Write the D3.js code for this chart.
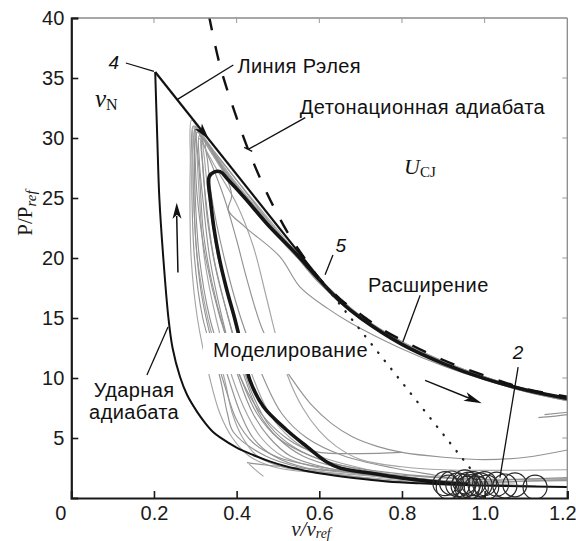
<!DOCTYPE html>
<html><head><meta charset="utf-8">
<script src="https://cdn.jsdelivr.net/npm/d3@7"></script>
<style>body{margin:0;background:#fff} svg{display:block}</style>
</head><body><svg id="c" width="576" height="541"></svg>
<script>
// ---------- data ----------
const xTickValues = [0, 0.2, 0.4, 0.6, 0.8, 1.0, 1.2];
const xTickLabels = ["0", "0.2", "0.4", "0.6", "0.8", "1.0", "1.2"];
const yTickValues = [5, 10, 15, 20, 25, 30, 35, 40];
const yTickLabels = ["5", "10", "15", "20", "25", "30", "35", "40"];

// shock adiabat (Ударная адиабата), starting at point 4
const shockV = [0.203,0.208,0.213,0.2226,0.235,0.245,0.263,0.28,0.304,0.325,0.343,0.36,0.40,0.44,0.48,0.521,0.56,0.60,0.683,0.763,0.843,0.95,1.05,1.2];
const shockP = [35.5,30,25,20,15,12.5,10.1,8.6,7.2,6.2,5.5,5.05,4.2,3.58,3.05,2.62,2.32,2.06,1.67,1.38,1.22,1.08,1.0,0.92];

// Rayleigh line: point 4 -> CJ point (solid), continuation (dotted)
const rayleighV = [0.203, 0.60];
const rayleighP = [35.5, 18.3];
const rayleighDotV = [0.60, 0.968];
const rayleighDotP = [18.3, 2.35];

// detonation adiabat (dashed)
const detonV = [0.333,0.36,0.39,0.425,0.46,0.495,0.53,0.565,0.60,0.65,0.70,0.75,0.80,0.90,1.00,1.10,1.20];
const detonP = [40.2,36.0,32.7,29.3,26.4,23.9,21.75,19.95,18.3,16.6,15.3,14.1,13.15,11.5,10.2,9.1,8.45];

// bold simulated cycle (Моделирование)
const boldV = [0.96,0.9,0.84,0.8,0.722,0.65,0.618,0.57,0.521,0.465,0.432,0.413,0.395,0.375,0.358,0.345,0.336,0.332,0.334,0.345,0.36,0.38,0.42,0.48,0.54,0.60,0.65,0.70,0.80,0.90,1.00,1.10,1.20];
const boldP = [1.15,1.27,1.5,1.67,2.08,2.5,3.0,4.28,5.67,7.6,9.83,12.5,15,17.5,20,22.5,25,26.3,26.8,27.15,27.2,26.5,25.0,22.6,20.5,18.2,16.4,15.0,12.8,11.2,9.95,9.0,8.3];

// gray simulated cycles, [v, P] pairs
const grayCycles = [
 [[1.2,1.55],[1.05,1.35],[0.905,1.25],[0.8,1.45],[0.7,1.75],[0.6,2.1],[0.5,2.5],[0.43,3.5],[0.39,5],[0.36,7],[0.335,10],[0.305,15],[0.29,20],[0.287,25],[0.288,28],[0.291,31.5],[0.31,30.6],[0.35,28.7],[0.4,26.5],[0.45,24.4],[0.5,22.3],[0.55,20.2],[0.6,18.0],[0.65,16.3],[0.7,15.0],[0.8,12.85],[0.9,11.2],[1.0,9.95],[1.1,8.9],[1.2,8.2]],
 [[0.92,1.1],[0.8,1.35],[0.7,1.7],[0.56,2.5],[0.47,3.5],[0.392,5.5],[0.378,7],[0.36,10],[0.318,15],[0.298,20],[0.292,25],[0.292,28],[0.295,31.0],[0.32,29.9],[0.36,28.0],[0.4,26.0],[0.45,23.9],[0.5,21.9],[0.55,19.9],[0.6,17.9],[0.7,14.9],[0.8,12.9],[0.9,11.3],[1.0,10.0],[1.1,9.0],[1.2,8.3]],
 [[1.2,1.7],[1.05,1.5],[0.948,1.3],[0.8,1.7],[0.68,2.1],[0.57,2.5],[0.49,3.5],[0.44,5],[0.41,7],[0.38,10],[0.335,15],[0.31,20],[0.30,25],[0.298,28],[0.30,30.7],[0.33,29.4],[0.37,27.4],[0.42,25.1],[0.47,23.0],[0.52,21.1],[0.57,19.2],[0.62,17.5],[0.7,15.1],[0.8,13.0],[0.9,11.35],[1.0,10.05],[1.1,9.0],[1.2,8.35]],
 [[0.961,1.2],[0.85,1.45],[0.72,1.9],[0.6,2.5],[0.51,3.5],[0.46,5],[0.425,7],[0.39,10],[0.35,15],[0.322,20],[0.31,25],[0.305,28],[0.305,30.5],[0.34,29.0],[0.38,27.0],[0.43,24.9],[0.48,22.9],[0.53,20.9],[0.58,19.0],[0.63,17.2],[0.7,15.2],[0.8,13.05],[0.9,11.4],[1.0,10.1],[1.1,9.05],[1.2,8.4]],
 [[0.973,1.0],[0.85,1.35],[0.75,1.75],[0.62,2.5],[0.53,3.5],[0.48,5],[0.44,7],[0.405,10],[0.365,15],[0.335,20],[0.318,25],[0.31,28],[0.31,30.2],[0.34,28.7],[0.39,26.2],[0.44,24.1],[0.49,22.2],[0.54,20.4],[0.59,18.6],[0.65,16.4],[0.75,13.9],[0.85,12.1],[0.95,10.7],[1.05,9.55],[1.2,8.25]],
 [[1.2,1.45],[1.08,1.4],[0.989,1.3],[0.88,1.5],[0.76,1.9],[0.65,2.5],[0.56,3.5],[0.5,5],[0.455,7],[0.42,10],[0.38,15],[0.345,20],[0.325,25],[0.317,28],[0.315,30.0],[0.35,28.3],[0.4,25.8],[0.45,23.8],[0.5,22.0],[0.55,20.1],[0.6,18.1],[0.7,15.0],[0.8,12.95],[0.9,11.3],[1.0,10.0],[1.1,8.95],[1.2,8.25]],
 [[1.005,1.2],[0.9,1.45],[0.8,1.8],[0.7,2.5],[0.6,3.5],[0.53,5],[0.48,7],[0.44,10],[0.395,15],[0.355,20],[0.333,25],[0.323,28],[0.32,29.8],[0.36,27.6],[0.41,25.4],[0.46,23.5],[0.51,21.6],[0.56,19.7],[0.61,17.8],[0.7,15.05],[0.8,12.9],[0.9,11.25],[1.0,9.95],[1.1,8.9],[1.2,8.15]],
 [[1.029,1.1],[0.9,1.4],[0.78,1.9],[0.68,2.5],[0.58,3.5],[0.5,5],[0.45,7],[0.41,10],[0.36,15],[0.325,20],[0.305,25],[0.30,28],[0.30,30.9],[0.33,29.5],[0.37,27.8],[0.42,25.6],[0.47,23.4],[0.52,21.3],[0.57,19.4],[0.62,17.6],[0.7,15.15],[0.8,13.0],[0.9,11.4],[1.0,10.1],[1.1,9.05],[1.2,8.35]],
 [[1.049,1.3],[0.95,1.5],[0.88,1.9],[0.78,2.5],[0.66,3.5],[0.57,5],[0.51,7],[0.465,10],[0.41,15],[0.37,20],[0.34,25],[0.33,28],[0.325,29.6],[0.37,27.2],[0.42,24.9],[0.47,22.9],[0.52,21.0],[0.57,19.2],[0.62,17.4],[0.7,15.0],[0.8,12.85],[0.9,11.2],[1.0,9.9],[1.1,8.85],[1.2,8.1]],
 [[1.073,1.25],[0.95,1.35],[0.85,1.5],[0.7,1.9],[0.6,2.2],[0.52,2.5],[0.45,3.5],[0.415,5],[0.39,7],[0.37,10],[0.33,15],[0.305,20],[0.296,25],[0.294,28],[0.297,31.0],[0.33,29.6],[0.38,27.1],[0.44,24.5],[0.5,22.1],[0.56,19.8],[0.62,17.6],[0.7,15.1],[0.8,13.0],[0.9,11.35],[1.0,10.05],[1.1,9.0],[1.2,8.3]],
 [[1.125,1.0],[1.0,1.2],[0.85,1.5],[0.72,2.0],[0.6,2.6],[0.5,3.4],[0.44,4.6],[0.4,6.5],[0.37,9.5],[0.34,13],[0.315,17],[0.3,22],[0.297,27],[0.305,30.5],[0.33,28.6],[0.37,25],[0.4,21.5],[0.425,18.2],[0.463,14],[0.5,11.7],[0.53,10.1],[0.58,7.8],[0.63,6.2],[0.68,5.1],[0.74,4.3],[0.8,3.8],[0.9,3.4],[1.0,3.2],[1.1,3.4],[1.2,4.0]],
 [[0.30,30.8],[0.31,27],[0.32,22],[0.34,18],[0.37,14],[0.41,10],[0.46,7],[0.52,5],[0.56,4.2],[0.6,3.8],[0.7,3.7],[0.8,3.8]],
 [[1.2,2.35],[1.0,2.3],[0.9,2.35],[0.8,2.6],[0.7,3.2],[0.642,4.28],[0.6,5.6],[0.56,7.5],[0.521,10.4],[0.495,13.5],[0.47,17],[0.44,21],[0.4,24.5],[0.35,27.5],[0.31,30]],
 [[1.03,1.5],[0.9,1.7],[0.75,2.2],[0.62,3.0],[0.54,4.2],[0.48,6],[0.44,8.5],[0.41,11.5],[0.38,15],[0.35,19],[0.33,23],[0.32,27],[0.318,29.9],[0.35,28.5],[0.388,25.25],[0.38,24.0],[0.42,22.6],[0.505,20.1],[0.553,17.6],[0.62,15.8],[0.675,14.6],[0.795,12.5],[0.9,11.0],[1.0,9.85],[1.1,8.85],[1.2,8.1]],
 [[0.425,2.95],[0.47,2.75],[0.55,2.5],[0.65,2.25],[0.8,1.9],[0.95,1.6],[1.2,1.6]],
 [[0.43,2.85],[0.447,2.3],[0.465,1.8]],
 [[1.13,6.7],[1.165,6.8],[1.2,6.95]],
 [[1.145,6.95],[1.2,7.15]]
];

// initial states (circles)
const circleV = [0.904,0.912,0.92,0.935,0.948,0.952,0.958,0.961,0.966,0.973,0.98,0.989,1.0,1.005,1.029,1.049,1.073,1.122];
const circleP = [1.2,0.9,1.25,1.1,1.0,1.35,0.8,1.15,0.95,1.2,0.85,1.1,1.2,0.9,1.15,1.0,1.1,0.9];

// ---------- drawing ----------
const svg = d3.select("#c");
const x = d3.scaleLinear().domain([0, 1.2]).range([71.3, 567.3]);
const y = d3.scaleLinear().domain([0, 40]).range([498, 18]);
const zip = (a, b) => a.map((v, i) => [v, b[i]]);
const line = d3.line().x(d => x(d[0])).y(d => y(d[1]));
const smooth = d3.line().x(d => x(d[0])).y(d => y(d[1])).curve(d3.curveCatmullRom.alpha(0.5));
const sans = "'Liberation Sans', Arial, Helvetica, sans-serif";
const serif = "'Liberation Serif', 'Times New Roman', serif";

svg.append("defs").append("clipPath").attr("id", "clip")
  .append("rect").attr("x", x(0)).attr("y", y(40)).attr("width", x(1.2) - x(0)).attr("height", y(0) - y(40));

const plot = svg.append("g").attr("clip-path", "url(#clip)");

// gray cycles
plot.append("g").selectAll("path").data(grayCycles).join("path")
  .attr("d", d => smooth(d)).attr("fill", "none")
  .attr("stroke", (d, i) => i % 3 === 0 ? "#a5a5a5" : "#939393").attr("stroke-width", 1.15);

// bold cycle
plot.append("path").attr("d", smooth(zip(boldV, boldP))).attr("fill", "none")
  .attr("stroke", "#151515").attr("stroke-width", 3.6).attr("stroke-linejoin", "round");

// label knockout for Моделирование
plot.append("rect").attr("x", 203).attr("y", 333).attr("width", 164).attr("height", 41).attr("fill", "#fff");

// shock adiabat
plot.append("path").attr("d", smooth(zip(shockV, shockP))).attr("fill", "none")
  .attr("stroke", "#111").attr("stroke-width", 2);

// detonation adiabat, dashed
plot.append("path").attr("d", smooth(zip(detonV, detonP))).attr("fill", "none")
  .attr("stroke", "#111").attr("stroke-width", 2.4).attr("stroke-dasharray", "15,16");

// Rayleigh line
plot.append("path").attr("d", line(zip(rayleighV, rayleighP))).attr("fill", "none")
  .attr("stroke", "#111").attr("stroke-width", 2.2);
plot.append("path").attr("d", line(zip(rayleighDotV, rayleighDotP))).attr("fill", "none")
  .attr("stroke", "#222").attr("stroke-width", 2.3).attr("stroke-linecap", "round")
  .attr("stroke-dasharray", "0.5,10");

// circles
plot.append("g").selectAll("circle").data(zip(circleV, circleP)).join("circle")
  .attr("cx", d => x(d[0])).attr("cy", d => y(d[1])).attr("r", 12)
  .attr("fill", "none").attr("stroke", "#2a2a2a").attr("stroke-width", 1.2);

// ---------- axes / frame ----------
const frame = svg.append("g");
frame.append("line").attr("x1", x(0)).attr("x2", x(1.2)).attr("y1", y(40)).attr("y2", y(40)).attr("stroke", "#8a8a8a").attr("stroke-width", 1.3);
frame.append("line").attr("x1", x(1.2)).attr("x2", x(1.2)).attr("y1", y(40)).attr("y2", y(0)).attr("stroke", "#8a8a8a").attr("stroke-width", 1.3);
frame.selectAll(".tt").data(xTickValues.slice(1, -1)).join("line")
  .attr("x1", d => x(d)).attr("x2", d => x(d)).attr("y1", y(40)).attr("y2", y(40) + 5).attr("stroke", "#999").attr("stroke-width", 1);
frame.selectAll(".rt").data(yTickValues.slice(0, -1)).join("line")
  .attr("x1", x(1.2)).attr("x2", x(1.2) - 5).attr("y1", d => y(d)).attr("y2", d => y(d)).attr("stroke", "#999").attr("stroke-width", 1);

const xAxis = svg.append("g").attr("transform", `translate(0,${y(0)})`)
  .call(d3.axisBottom(x).tickValues(xTickValues).tickFormat((d, i) => xTickLabels[i]).tickSize(-7).tickPadding(8));
const yAxis = svg.append("g").attr("transform", `translate(${x(0)},0)`)
  .call(d3.axisLeft(y).tickValues(yTickValues).tickFormat((d, i) => yTickLabels[i]).tickSize(-7).tickPadding(7));
[xAxis, yAxis].forEach(a => {
  a.select(".domain").attr("stroke", "#1a1a1a").attr("stroke-width", 2.2);
  a.selectAll(".tick line").attr("stroke", "#1a1a1a").attr("stroke-width", 1.6);
  a.selectAll(".tick text").attr("fill", "#1a1a1a").style("font-family", sans).style("font-size", "20px");
});
xAxis.selectAll(".tick").filter(d => d === 0).select("text").attr("dx", -11);
xAxis.selectAll(".tick").filter(d => d === 0).select("line").remove();
xAxis.selectAll(".tick").filter(d => d === 1.2).select("text").attr("dx", -5);

// axis titles
const yl = svg.append("text").attr("transform", `translate(32,${213}) rotate(-90)`)
  .attr("text-anchor", "middle").style("font-family", serif).style("font-size", "21px").attr("fill", "#1a1a1a");
yl.append("tspan").text("P/P");
yl.append("tspan").attr("font-style", "italic").attr("font-size", "15px").attr("dy", 4).text("ref");

const xl = svg.append("text").attr("x", 311).attr("y", 536)
  .attr("text-anchor", "middle").style("font-family", serif).style("font-size", "21px").attr("fill", "#1a1a1a").attr("font-style", "italic");
xl.append("tspan").text("v/v");
xl.append("tspan").attr("font-size", "14px").attr("dy", 2).text("ref");

// ---------- annotations ----------
const ann = svg.append("g").attr("fill", "#111").style("font-family", sans);
function leader(v1, p1, v2, p2, w) {
  ann.append("line").attr("x1", x(v1)).attr("y1", y(p1)).attr("x2", x(v2)).attr("y2", y(p2))
    .attr("stroke", "#111").attr("stroke-width", w || 1.3);
}
function label(txt, v, p, opts) {
  const t = ann.append("text").attr("x", x(v)).attr("y", y(p)).text(txt)
    .style("font-size", (opts && opts.size || 20) + "px").attr("text-anchor", opts && opts.anchor || "start")
    .style("letter-spacing", opts && opts.size ? "0px" : "0.4px");
  if (opts && opts.italic) t.attr("font-style", "italic");
  return t;
}
function arrowHead(x1, y1, x2, y2, len, hw) {
  const a = Math.atan2(y2 - y1, x2 - x1), c = Math.cos(a), s = Math.sin(a);
  const bx = x2 - len * c, by = y2 - len * s, nx = x2 - 0.75 * len * c, ny = y2 - 0.75 * len * s;
  ann.append("path").attr("d", `M${x2},${y2}L${bx - hw * s},${by + hw * c}L${nx},${ny}L${bx + hw * s},${by - hw * c}Z`)
    .attr("fill", "#111");
}

// point 4
label("4", 0.09, 35.75, {italic: true, size: 19});
leader(0.132, 36.25, 0.2, 35.55);
// Rayleigh line label
label("Линия Рэлея", 0.402, 35.45);
leader(0.392, 36.08, 0.256, 33.2);
// detonation adiabat label
label("Детонационная адиабата", 0.553, 32.0);
leader(0.566, 31.7, 0.428, 29.05);
ann.append("line").attr("x1", x(0.428) - 4).attr("y1", y(29.05) - 2).attr("x2", x(0.428) + 4).attr("y2", y(29.05) + 2).attr("stroke", "#111").attr("stroke-width", 1.3);
// 5
label("5", 0.639, 20.5, {italic: true, size: 19});
leader(0.633, 20.25, 0.614, 18.6);
// Расширение
label("Расширение", 0.718, 17.2);
leader(0.844, 16.9, 0.802, 13.0);
// Моделирование
label("Моделирование", 0.343, 11.75);
// Ударная адиабата
label("Ударная", 0.152, 8.4, {anchor: "middle"});
label("адиабата", 0.152, 6.55, {anchor: "middle"});
leader(0.183, 10.25, 0.234, 14.25);
// 2
label("2", 1.081, 11.6, {italic: true, size: 19, anchor: "middle"});
leader(1.081, 10.9, 1.037, 1.7);

// math labels
const vn = svg.append("text").attr("x", 95).attr("y", 107).style("font-family", serif).attr("fill", "#111");
vn.append("tspan").attr("font-style", "italic").style("font-size", "25px").text("v");
vn.append("tspan").style("font-size", "16px").attr("dy", 3).text("N");
const ucj = svg.append("text").attr("x", 404).attr("y", 174).style("font-family", serif).attr("fill", "#111");
ucj.append("tspan").attr("font-style", "italic").style("font-size", "22px").text("U");
ucj.append("tspan").style("font-size", "15px").attr("dy", 3).text("CJ");

// arrows
{
  const v0 = 0.30, v1 = 0.333;
  const p0 = rayleighP[0] + (rayleighP[1] - rayleighP[0]) * (v0 - rayleighV[0]) / (rayleighV[1] - rayleighV[0]);
  const p1 = rayleighP[0] + (rayleighP[1] - rayleighP[0]) * (v1 - rayleighV[0]) / (rayleighV[1] - rayleighV[0]);
  arrowHead(x(v0), y(p0), x(v1), y(p1), 17, 4.5);
}
leader(0.258, 18.8, 0.255, 23.5, 1.5);
arrowHead(x(0.258), y(18.8), x(0.255), y(24.6), 16, 4.5);
leader(0.856, 9.8, 0.975, 8.15, 1.5);
arrowHead(x(0.856), y(9.8), x(0.993), y(7.9), 18, 4.5);
</script></body></html>
